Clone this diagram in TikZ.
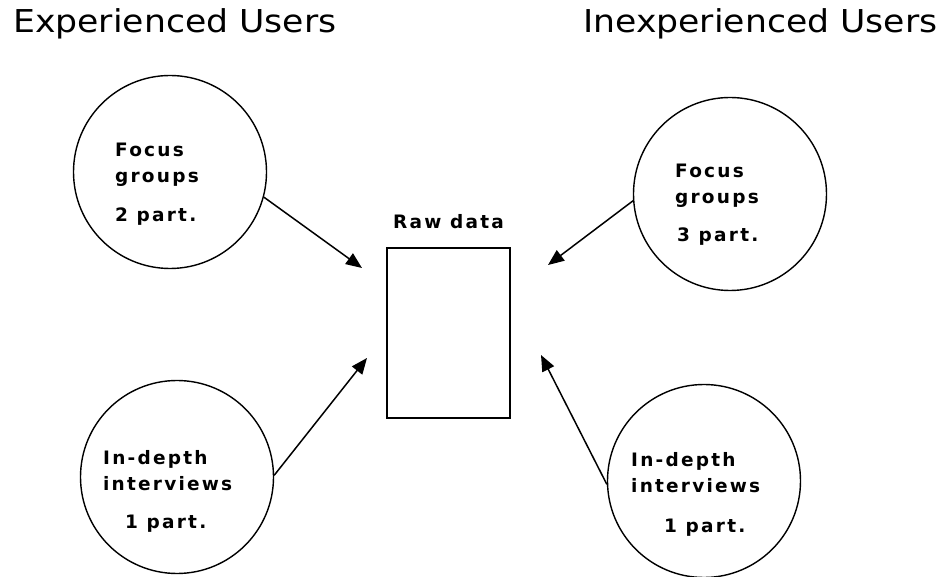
\documentclass[tikz,border=0pt]{standalone}
\usepackage{fontspec}
\newfontfamily\titlefont[FakeStretch=1.1]{DejaVu Sans}
\newfontfamily\pxfont[LetterSpace=12]{DejaVu Sans}
\usetikzlibrary{positioning, arrows.meta}

\begin{document}
\begin{tikzpicture}[x=1pt, y=-1pt, node distance=18pt,
  ring/.style={circle, draw, line width=1.4pt, minimum size=193pt, inner sep=0pt},
  txt/.style={inner sep=0pt, align=left, anchor=base west, font=\pxfont\bfseries\fontsize{18.5}{26}\selectfont},
  head/.style={inner sep=0pt, anchor=base west, font=\titlefont\fontsize{31.5}{36}\selectfont},
  feed/.style={-{Triangle[length=16pt, width=13pt]}, line width=1.5pt}]

\useasboundingbox (0,0) rectangle (946,577);

\node[head] (exp) at (13,33) {Experienced Users};
\node[head] (inexp) at (583,33) {Inexperienced Users};

% raw data box in the middle
\node[draw, line width=1.8pt, minimum width=123pt, minimum height=170pt, inner sep=0pt] (raw) at (448.5,333) {};
\node[txt, anchor=south, above=of raw] (rawlbl) {Raw data};

% the four sources
\node[ring] (fg2) at (170,172) {};
\node[ring] (fg3) at (730,194) {};
\node[ring] (idi1) at (177,477) {};
\node[ring] (idi1b) at (704,481) {};

\node[txt] (fg2a) at (115,183) {Focus\\groups};
\node[txt] (fg2b) at (115,222) {2 part.};
\node[txt] (fg3a) at (675,204) {Focus\\groups};
\node[txt] (fg3b) at (677,242) {3 part.};
\node[txt] (idi1a) at (103,490) {In-depth\\interviews};
\node[txt] (idi1c) at (125,528) {1 part.};
\node[txt] (idi1ba) at (631,493) {In-depth\\interviews};
\node[txt] (idi1bc) at (664,532) {1 part.};

\coordinate (t1) at (362,268);
\coordinate (t2) at (548,265);
\coordinate (t3) at (367,358);
\coordinate (t4) at (541,355);

\draw[feed] (fg2.-15) -- (t1);
\draw[feed] (fg3.184) -- (t2);
\draw[feed] (idi1.1) -- (t3);
\draw[feed] (idi1b.182) -- (t4);

\end{tikzpicture}
\end{document}
